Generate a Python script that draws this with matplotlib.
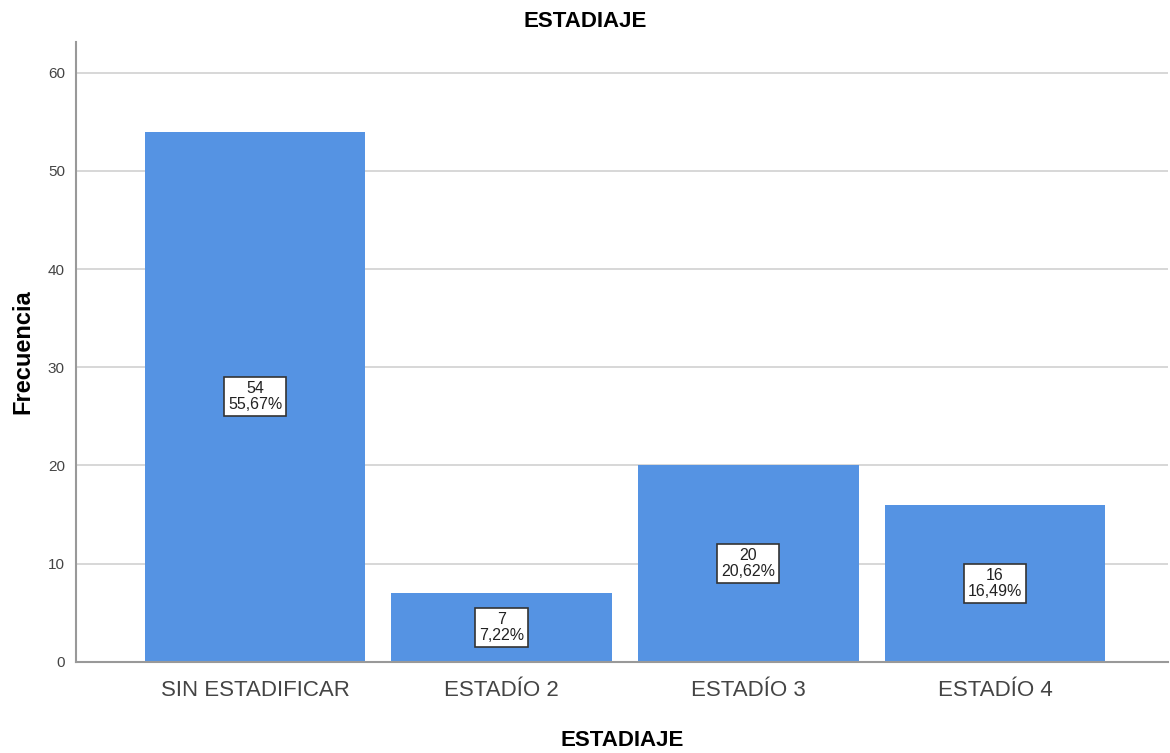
import matplotlib
matplotlib.use("Agg")
import matplotlib.pyplot as plt
import numpy as np

plt.rcParams['font.family'] = ['Liberation Sans', 'DejaVu Sans']

# Frequency table for staging
categorias = ['SIN ESTADIFICAR', 'ESTADÍO 2', 'ESTADÍO 3', 'ESTADÍO 4']
frecuencia = [54, 7, 20, 16]
porcentaje = ['55,67%', '7,22%', '20,62%', '16,49%']
yticks = [0, 10, 20, 30, 40, 50, 60]

fig = plt.figure(figsize=(11.7, 7.53), dpi=100)
ax = fig.add_axes([0.065, 0.121, 0.933, 0.823])

x = np.arange(len(categorias))
ax.bar(x, frecuencia, width=0.895, color='#5593e3', zorder=2)

# count and percent box in the middle of each bar
for xi, f, p in zip(x, frecuencia, porcentaje):
    ax.text(xi, f / 2, f'{f}\n{p}', ha='center', va='center', fontsize=11.5,
            color='#222222', linespacing=1.05, zorder=3,
            bbox=dict(boxstyle='square,pad=0.25', facecolor='white',
                      edgecolor='#333333', linewidth=1.2))

ax.set_xlim(-0.726, 3.70)
ax.set_ylim(0, 63.1)
ax.set_yticks(yticks)
ax.set_xticks(x)
ax.set_xticklabels(categorias, fontsize=16, color='#444444')
ax.tick_params(axis='y', labelsize=11, colors='#444444', length=0, pad=8)
ax.tick_params(axis='x', length=0, pad=13)

ax.grid(axis='y', color='#d4d4d4', linewidth=1.3, zorder=0)
ax.set_axisbelow(True)
for s in ['top', 'right']:
    ax.spines[s].set_visible(False)
for s in ['left', 'bottom']:
    ax.spines[s].set_color('#999999')
    ax.spines[s].set_linewidth(1.5)

fig.text(0.5, 0.971, 'ESTADIAJE', ha='center', va='center',
         fontsize=16, fontweight='bold')
ax.set_xlabel('ESTADIAJE', fontsize=16, fontweight='bold', labelpad=21)
ax.set_ylabel('Frecuencia', fontsize=17, fontweight='bold', labelpad=10)

fig.savefig('out.png', dpi=100, facecolor='white')
